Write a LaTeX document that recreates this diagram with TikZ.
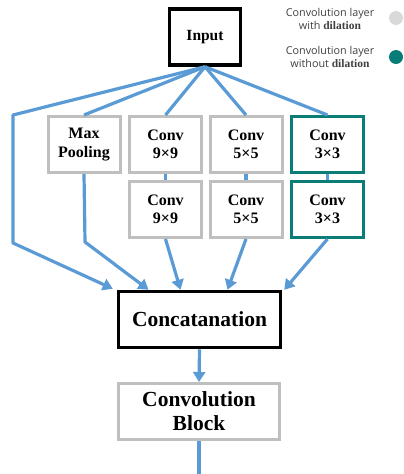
\documentclass[tikz,border=0pt]{standalone}
\usepackage{fontspec}
\setmainfont{Liberation Serif}
\newfontfamily\legendfont{Open Sans}
\usetikzlibrary{arrows.meta}

\definecolor{flowblue}{RGB}{91,155,213}
\definecolor{dilgray}{RGB}{191,191,191}
\definecolor{dotgray}{RGB}{217,217,217}
\definecolor{nodilteal}{RGB}{10,125,120}
\definecolor{legtext}{RGB}{64,64,64}

\tikzset{
  mainbox/.style={draw=black, line width=3.5pt, fill=white, align=center, font=\bfseries},
  dilbox/.style={draw=dilgray, line width=3pt, fill=white, align=center, font=\fontsize{16}{18.5}\selectfont\bfseries, minimum width=72pt, minimum height=56pt, inner sep=0pt},
  nodilbox/.style={dilbox, draw=nodilteal},
  flow/.style={draw=flowblue, line width=3.2pt, line join=round},
  flowarrow/.style={flow, -{Triangle[length=10pt,width=12pt]}},
  legend/.style={font=\legendfont\fontsize{10.8}{12.8}\selectfont, text=legtext, align=center}
}

\begin{document}
\begin{tikzpicture}[x=1pt, y=-1pt]
  \useasboundingbox (0,0) rectangle (404,474);

  % boxes
  \node[mainbox, minimum width=71pt, minimum height=56pt, font=\fontsize{15.5}{17}\selectfont\bfseries] (input) at (205,37) {Input};

  \node[dilbox] (maxpool) at (84,144.5) {Max\\Pooling};
  \node[dilbox] (conv9a) at (165.5,144.5) {Conv\\9×9};
  \node[dilbox] (conv5a) at (246,144.5) {Conv\\5×5};
  \node[nodilbox] (conv3a) at (327.5,144.5) {Conv\\3×3};

  \node[dilbox] (conv9b) at (165.5,209.5) {Conv\\9×9};
  \node[dilbox] (conv5b) at (246,209.5) {Conv\\5×5};
  \node[nodilbox] (conv3b) at (327.5,209.5) {Conv\\3×3};

  \node[mainbox, minimum width=162pt, minimum height=56pt, font=\fontsize{21.5}{24}\selectfont\bfseries] (concat) at (199.5,319.5) {Concatanation};
  \node[dilbox, minimum width=161pt, font=\fontsize{21.5}{24}\selectfont\bfseries] (convblock) at (199,411.5) {Convolution\\Block};

  % legend
  \node[legend] (legdil) at (330,19) {Convolution layer\\with {\rmfamily\bfseries\fontsize{11.5}{12.8}\selectfont dilation}};
  \node[legend] (legnodil) at (330,57) {Convolution layer\\without {\rmfamily\bfseries\fontsize{11.5}{12.8}\selectfont dilation}};
  \fill[dotgray] (396,18) circle (7);
  \fill[nodilteal] (396,57) circle (7);

  \coordinate (lefttop) at (13,115);
  \coordinate (leftbot) at (13,243);
  \coordinate (poolbot) at (85,242);
  \coordinate (out) at (199,474);

  % connectors
  \draw[flowarrow] (input.south) -- (lefttop) -- (leftbot) -- ([xshift=-4pt,yshift=1pt]concat.north west);
  \draw[flow] (input.south) -- (maxpool.north);
  \draw[flow] (input.south) -- (conv9a.north);
  \draw[flow] (input.south) -- (conv5a.north);
  \draw[flow] (input.south) -- (conv3a.north);

  \draw[flow] (conv9a.south) -- (conv9b.north);
  \draw[flow] (conv5a.south) -- (conv5b.north);
  \draw[flow] (conv3a.south) -- (conv3b.north);

  \draw[flowarrow] (maxpool.south) -- (poolbot) -- ([xshift=-51pt]concat.north);
  \draw[flowarrow] (conv9b.south) -- ([xshift=-19pt]concat.north);
  \draw[flowarrow] (conv5b.south) -- ([xshift=28pt]concat.north);
  \draw[flowarrow] (conv3b.south) -- ([xshift=2pt]concat.north east);

  \draw[flowarrow] (concat.south) -- (convblock.north);
  \draw[flow] (convblock.south) -- (out);
\end{tikzpicture}
\end{document}
